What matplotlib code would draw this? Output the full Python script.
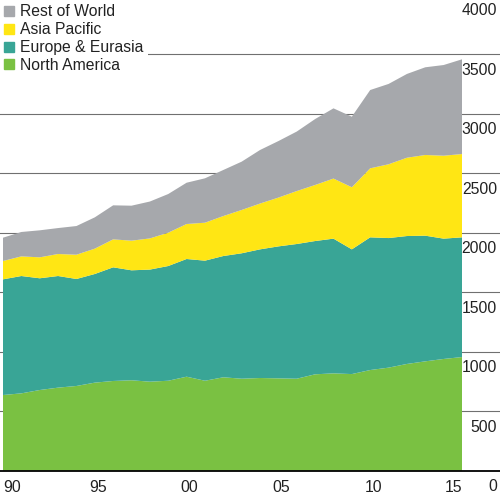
import matplotlib
matplotlib.use("Agg")
import matplotlib.pyplot as plt
from matplotlib.lines import Line2D
from matplotlib.transforms import ScaledTranslation, blended_transform_factory
import numpy as np

years = list(range(1990, 2016))
north_america = [636, 650, 678, 698, 712, 740, 754, 760, 748, 756, 790, 756, 785,
                 773, 779, 776, 773, 810, 818, 812, 846, 866, 897, 919, 939, 955]
europe_eurasia = [972, 986, 939, 938, 899, 913, 955, 924, 942, 964, 989, 1009, 1019,
                  1054, 1081, 1109, 1132, 1120, 1132, 1048, 1115, 1089, 1075, 1056, 1011, 1006]
asia_pacific = [154, 165, 176, 185, 204, 213, 235, 249, 262, 280, 294, 319, 336,
                364, 385, 410, 445, 471, 505, 522, 580, 620, 658, 678, 697, 700]
rest_of_world = [196, 205, 227, 218, 241, 263, 286, 294, 310, 325, 347, 373, 387,
                 406, 450, 475, 500, 554, 590, 593, 658, 675, 704, 737, 762, 796]

series_labels = ["North America", "Europe & Eurasia", "Asia Pacific", "Rest of World"]
colors = ["#7ac142", "#39a596", "#ffe614", "#a6a8ac"]
xtick_years = [1990, 1995, 2000, 2005, 2010, 2015]
xtick_labels = ["90", "95", "00", "05", "10", "15"]
ytick_values = [0, 500, 1000, 1500, 2000, 2500, 3000, 3500, 4000]

plt.rcParams['font.family'] = ['Liberation Sans', 'DejaVu Sans']
FS = 11.3

W, H = 500, 497
fig = plt.figure(figsize=(W / 100, H / 100), dpi=100)
bottom_px = H - 470.7
ax = fig.add_axes([0, bottom_px / H, 1, 1 - bottom_px / H])

px_per_year = (462 - 3) / 25.0
ax.set_xlim(1990 - 3 / px_per_year, 1990 + (W - 3) / px_per_year)
ax.set_ylim(0, 470.7 / 0.119)

# gridlines
for v in ytick_values[1:]:
    ax.axhline(v, color="#707070", lw=0.8, zorder=0)

ax.stackplot(years, north_america, europe_eurasia, asia_pacific, rest_of_world,
             colors=colors, linewidth=0, zorder=1)

for s in ["top", "left", "right"]:
    ax.spines[s].set_visible(False)
ax.spines["bottom"].set_color("black")
ax.spines["bottom"].set_linewidth(1.3)
ax.spines["bottom"].set_zorder(3)
ax.set_yticks([])

ax.set_xticks(xtick_years)
ax.set_xticklabels(xtick_labels, fontsize=FS, color="#222222")
ax.tick_params(axis="x", length=0, pad=7)
tl = ax.get_xticklabels()
tl[0].set_ha("left")
tl[-1].set_ha("right")
for t in tl[1:-1]:
    t.set_transform(t.get_transform() + ScaledTranslation(3 / 100, 0, fig.dpi_scale_trans))

# y labels, right-aligned, below gridlines
trans = blended_transform_factory(ax.transAxes, ax.transData) + \
    ScaledTranslation(-3 / 100, -16 / 100, fig.dpi_scale_trans)
for v in ytick_values:
    ax.text(1.0, v, str(v), transform=trans, ha="right", va="center",
            fontsize=FS, color="#222222", clip_on=False, zorder=4)

# legend
handles = [Line2D([], [], marker="s", linestyle="none", markersize=6.5,
                  markerfacecolor=c, markeredgecolor=c) for c in colors[::-1]]
leg = ax.legend(handles, series_labels[::-1], loc="upper left",
                bbox_to_anchor=(0, 1), borderaxespad=0, borderpad=0.28,
                handlelength=0.6, handletextpad=0.4, labelspacing=0.18,
                fontsize=FS, frameon=True, fancybox=False)
leg.get_frame().set_facecolor("white")
leg.get_frame().set_edgecolor("none")
leg.get_frame().set_alpha(1)
leg.set_zorder(5)
for t in leg.get_texts():
    t.set_color("#222222")

fig.savefig("out.png", dpi=100)
